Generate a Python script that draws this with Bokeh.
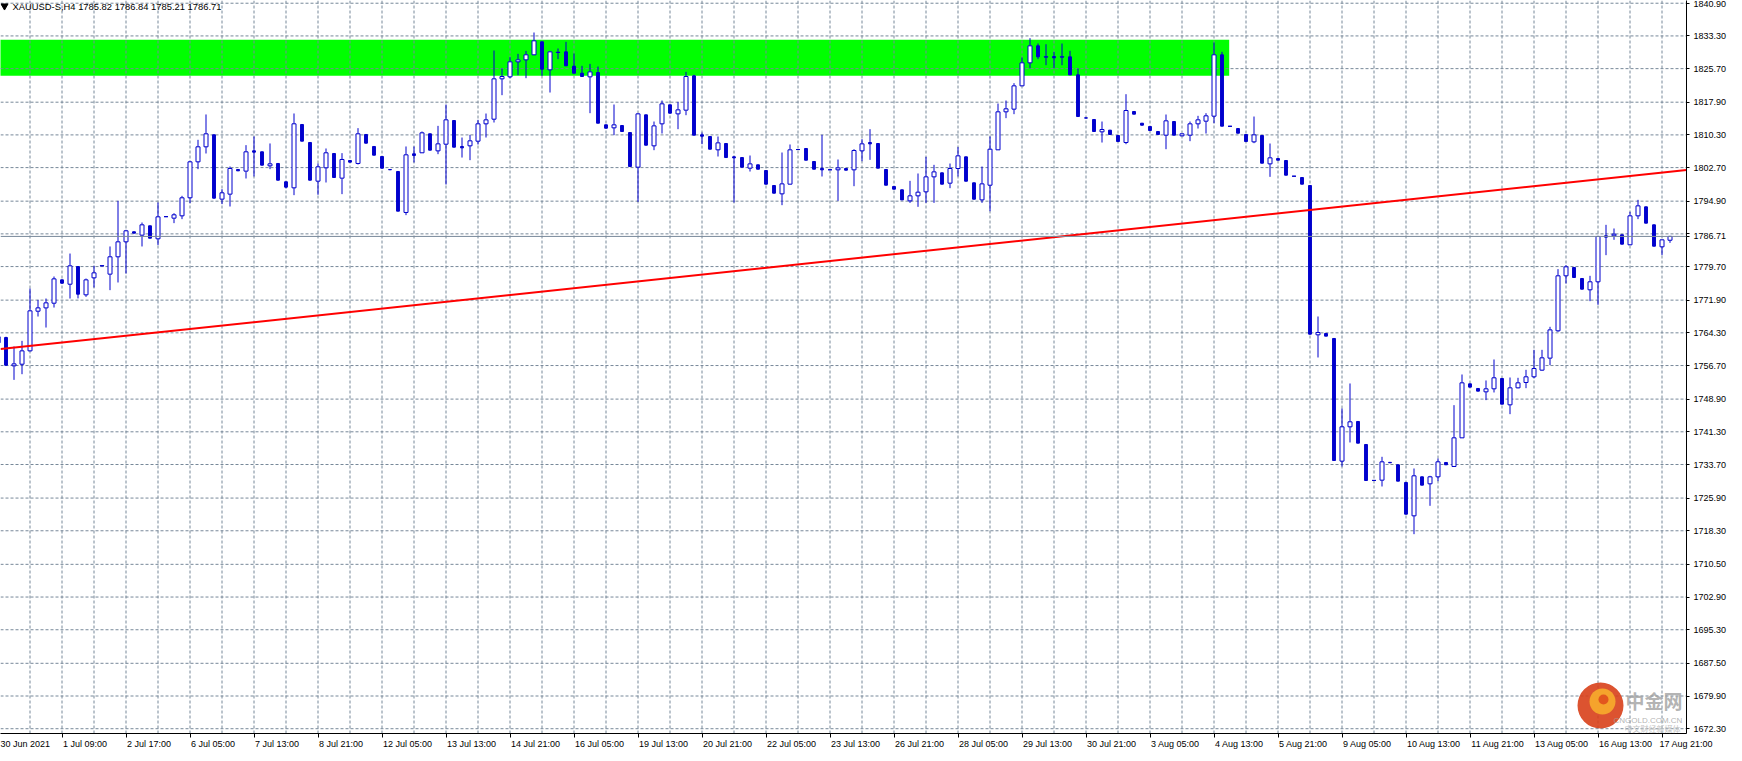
from bokeh.plotting import figure
from bokeh.models import (FixedTicker, Range1d, Label, LinearAxis, NumeralTickFormatter, Span)
from bokeh.embed import file_html
from bokeh.resources import INLINE
import numpy as np

# ---------------- data (XAUUSD H4, 210 bars) ----------------
opens = [1762.05,1763.21,1756.63,1757.01,1760.11,1769.33,1770.10,1771.19,1776.61,1775.60,
         1779.71,1773.13,1777.08,1779.87,1777.94,1781.97,1785.45,1787.78,1787.00,1789.17,
         1786.15,1791.30,1790.95,1791.49,1795.68,1804.04,1807.53,1810.32,1795.37,1796.53,
         1802.26,1801.88,1806.60,1806.37,1803.11,1803.66,1799.40,1798.00,1812.72,1808.54,
         1799.55,1802.65,1805.98,1800.25,1804.35,1803.66,1810.40,1807.61,1805.28,1802.26,
         1801.80,1792.27,1805.90,1806.14,1810.55,1806.59,1808.14,1813.64,1807.60,1807.76,
         1808.84,1812.87,1813.95,1823.33,1823.79,1827.28,1827.74,1828.91,1831.93,1825.42,
         1829.45,1829.60,1826.27,1824.64,1823.79,1824.80,1812.64,1811.94,1812.48,1810.85,
         1802.80,1814.96,1807.76,1812.87,1817.29,1815.19,1816.05,1824.02,1810.31,1809.93,
         1806.83,1808.30,1805.20,1805.04,1802.57,1803.34,1802.02,1798.54,1796.60,1798.85,
         1806.90,1807.14,1804.12,1802.49,1802.20,1802.18,1802.49,1802.18,1806.59,1808.53,
         1808.30,1802.26,1798.31,1797.53,1794.97,1796.14,1797.07,1800.55,1801.48,1799.08,
         1802.49,1805.20,1799.16,1795.20,1798.61,1806.83,1815.66,1816.28,1821.70,1827.05,
         1831.00,1828.40,1828.52,1828.40,1828.44,1824.26,1814.26,1813.88,1811.01,1811.40,
         1810.16,1808.53,1815.74,1813.02,1812.25,1811.09,1810.24,1813.41,1810.08,1810.24,
         1812.87,1813.49,1814.65,1828.91,1812.30,1811.78,1810.39,1808.68,1810.16,1803.57,
         1804.81,1804.35,1800.70,1800.40,1798.54,1763.84,1764.15,1762.99,1734.48,1742.46,
         1743.70,1738.35,1730.00,1730.06,1734.20,1733.63,1729.52,1721.77,1730.84,1729.21,
         1730.84,1734.17,1733.24,1739.90,1752.45,1751.37,1750.59,1751.29,1753.69,1747.57,
         1751.52,1752.76,1754.08,1755.63,1758.42,1764.77,1777.55,1779.49,1776.93,1774.30,
         1776.16,1786.85,1786.85,1787.08,1784.76,1791.49,1793.58,1789.40,1784.29,1785.82]
highs = [1764.22,1763.40,1761.12,1762.44,1774.60,1771.97,1772.27,1777.39,1776.70,1782.73,
         1779.80,1776.92,1779.87,1779.95,1784.37,1794.98,1788.24,1787.85,1789.94,1789.20,
         1794.59,1791.40,1792.11,1796.14,1804.28,1809.16,1815.05,1810.40,1797.69,1802.96,
         1802.30,1807.92,1809.93,1806.40,1808.31,1803.70,1799.45,1815.28,1812.80,1808.60,
         1803.66,1807.14,1806.05,1806.06,1804.40,1811.87,1810.45,1807.65,1805.30,1802.30,
         1801.85,1807.61,1807.61,1811.09,1810.60,1812.40,1817.36,1813.70,1809.69,1810.31,
         1813.80,1815.27,1829.91,1825.73,1828.36,1829.14,1829.83,1834.10,1832.00,1829.83,
         1830.38,1831.93,1829.22,1826.35,1826.81,1826.19,1812.70,1817.36,1812.55,1810.90,
         1815.35,1815.00,1813.41,1818.29,1817.35,1817.98,1824.95,1824.26,1810.85,1810.00,
         1809.93,1808.35,1805.43,1805.10,1805.51,1803.40,1802.05,1798.60,1806.21,1808.07,
         1807.00,1807.20,1804.15,1810.31,1802.30,1804.58,1802.55,1806.98,1809.31,1811.63,
         1808.35,1802.30,1798.35,1797.60,1799.62,1801.33,1805.20,1803.34,1801.55,1803.65,
         1807.45,1805.25,1799.20,1802.95,1809.93,1817.59,1818.29,1822.32,1828.29,1832.78,
         1831.54,1831.38,1829.60,1831.54,1829.84,1825.73,1814.30,1813.95,1813.41,1811.45,
         1810.20,1819.76,1815.80,1813.05,1812.30,1811.15,1815.04,1813.45,1810.60,1813.41,
         1814.73,1815.35,1831.77,1829.60,1812.40,1811.85,1810.45,1814.57,1810.20,1808.30,
         1804.85,1804.40,1800.80,1800.45,1798.60,1768.10,1764.20,1763.05,1746.72,1752.53,
         1743.75,1738.40,1730.10,1735.49,1734.25,1733.70,1729.60,1732.77,1730.90,1731.07,
         1735.10,1734.20,1747.49,1754.62,1752.50,1751.40,1753.23,1758.11,1753.75,1753.92,
         1753.85,1755.70,1760.35,1760.35,1765.70,1779.10,1780.03,1779.55,1777.00,1777.55,
         1786.70,1789.40,1788.55,1787.15,1792.42,1795.21,1793.65,1789.45,1786.00,1786.84]
lows = [1758.95,1756.60,1753.37,1754.69,1760.00,1768.09,1765.53,1770.18,1775.70,1772.27,
        1772.30,1772.66,1774.83,1779.80,1774.22,1776.00,1778.09,1787.40,1784.37,1786.28,
        1784.68,1791.20,1789.79,1790.72,1794.44,1802.34,1805.98,1795.50,1794.21,1793.66,
        1801.90,1800.17,1800.64,1803.20,1802.34,1799.70,1797.90,1796.30,1808.80,1799.70,
        1796.38,1799.24,1800.35,1796.53,1803.90,1803.42,1808.30,1805.55,1802.50,1802.15,
        1792.55,1791.65,1803.89,1806.10,1806.70,1805.82,1798.77,1807.40,1805.04,1804.43,
        1808.07,1809.69,1813.18,1819.53,1823.48,1824.18,1823.48,1828.85,1824.02,1820.15,
        1827.90,1826.30,1824.60,1823.80,1815.35,1813.00,1811.80,1810.24,1811.05,1802.90,
        1794.74,1807.85,1806.75,1810.62,1815.30,1811.63,1814.88,1810.20,1808.14,1806.95,
        1805.28,1805.00,1794.59,1802.75,1801.79,1802.30,1798.80,1796.70,1793.97,1798.80,
        1806.80,1804.40,1802.30,1800.63,1802.10,1794.97,1802.05,1798.38,1804.19,1804.50,
        1802.55,1798.60,1797.65,1795.15,1794.51,1793.58,1794.51,1794.51,1798.80,1797.92,
        1800.63,1799.50,1795.30,1794.51,1792.57,1806.80,1814.19,1815.12,1821.65,1825.81,
        1827.90,1826.50,1825.81,1826.50,1824.20,1814.50,1814.15,1811.05,1808.53,1810.35,
        1808.70,1808.14,1815.10,1812.50,1811.30,1810.35,1806.98,1810.20,1810.00,1808.84,
        1811.78,1810.62,1813.02,1812.30,1812.20,1810.65,1808.70,1808.38,1803.70,1800.55,
        1804.40,1800.90,1800.60,1798.80,1763.90,1758.57,1763.50,1734.60,1733.24,1738.82,
        1738.60,1729.95,1729.90,1728.59,1734.05,1729.80,1722.10,1717.51,1728.85,1724.10,
        1729.83,1733.60,1733.20,1739.85,1751.65,1750.70,1748.66,1750.44,1747.70,1745.40,
        1751.40,1751.44,1753.77,1755.47,1756.79,1764.54,1775.77,1777.10,1774.40,1771.66,
        1770.81,1782.35,1785.92,1784.85,1784.70,1790.72,1789.75,1784.40,1782.35,1785.21]
closes = [1763.36,1756.78,1757.09,1760.11,1769.41,1770.10,1771.27,1776.84,1775.84,1779.87,
          1773.28,1776.61,1778.24,1779.90,1781.97,1785.45,1788.01,1787.47,1789.40,1786.30,
          1791.26,1791.30,1791.73,1795.68,1804.04,1807.53,1810.55,1795.60,1796.84,1802.50,
          1801.95,1806.37,1806.29,1803.27,1803.58,1799.78,1798.16,1812.88,1808.85,1799.78,
          1802.88,1806.14,1800.40,1804.59,1803.97,1810.55,1808.38,1805.59,1802.57,1802.19,
          1792.58,1805.67,1805.52,1810.78,1806.76,1808.22,1813.80,1807.45,1807.29,1808.92,
          1812.87,1813.80,1823.33,1823.87,1827.28,1827.74,1828.91,1832.16,1825.57,1829.60,
          1829.50,1826.35,1824.64,1823.87,1824.95,1813.02,1811.86,1812.64,1811.09,1802.95,
          1815.19,1807.91,1812.40,1817.52,1815.35,1816.12,1823.87,1810.24,1810.00,1806.98,
          1808.45,1805.04,1804.97,1802.80,1803.57,1802.33,1798.85,1796.76,1798.92,1806.83,
          1806.90,1804.42,1802.33,1802.18,1802.20,1802.64,1802.10,1806.67,1808.22,1808.22,
          1802.57,1798.61,1797.69,1795.20,1796.14,1796.99,1800.55,1801.71,1798.85,1802.49,
          1805.43,1799.54,1795.36,1798.92,1806.98,1815.66,1816.36,1821.70,1827.05,1831.00,
          1828.44,1828.45,1828.21,1828.45,1824.26,1814.57,1814.20,1811.09,1811.55,1810.39,
          1808.76,1815.97,1815.12,1812.56,1811.32,1810.39,1813.57,1810.24,1810.55,1812.87,
          1813.80,1814.73,1828.91,1812.33,1812.30,1810.70,1808.76,1810.31,1803.73,1804.97,
          1804.42,1800.94,1800.70,1798.85,1763.99,1764.38,1763.53,1734.63,1742.46,1743.62,
          1738.66,1729.98,1730.00,1734.32,1734.10,1729.83,1722.16,1731.07,1728.90,1730.84,
          1734.32,1733.63,1739.90,1752.68,1751.68,1750.75,1751.29,1753.85,1747.72,1751.52,
          1752.68,1754.08,1756.01,1758.49,1764.99,1777.55,1779.64,1777.16,1774.45,1776.16,
          1786.69,1786.54,1787.23,1784.91,1791.49,1793.81,1789.79,1784.44,1785.91,1786.71]

x_tick_bars = [0, 8, 16, 24, 32, 40, 48, 56, 64, 72, 80, 88, 96, 104, 112, 120, 128,
               136, 144, 152, 160, 168, 176, 184, 192, 200, 208]
x_tick_labels = ["30 Jun 2021", "1 Jul 09:00", "2 Jul 17:00", "6 Jul 05:00", "7 Jul 13:00",
                 "8 Jul 21:00", "12 Jul 05:00", "13 Jul 13:00", "14 Jul 21:00", "16 Jul 05:00",
                 "19 Jul 13:00", "20 Jul 21:00", "22 Jul 05:00", "23 Jul 13:00", "26 Jul 21:00",
                 "28 Jul 05:00", "29 Jul 13:00", "30 Jul 21:00", "3 Aug 05:00", "4 Aug 13:00",
                 "5 Aug 21:00", "9 Aug 05:00", "10 Aug 13:00", "11 Aug 21:00", "13 Aug 05:00",
                 "16 Aug 13:00", "17 Aug 21:00"]
y_tick_values = [1840.90, 1833.30, 1825.70, 1817.90, 1810.30, 1802.70, 1794.90, 1787.30,
                 1779.70, 1771.90, 1764.30, 1756.70, 1748.90, 1741.30, 1733.70, 1725.90,
                 1718.30, 1710.50, 1702.90, 1695.30, 1687.50, 1679.90, 1672.30]
last_price = 1786.71
title_text = "XAUUSD-S,H4  1785.82 1786.84 1785.21 1786.71"
zone_end_bar = 153.9
zone_prices = [1824.04, 1832.40]
trend_bars = [0.3125, 211.06]
trend_prices = [1760.52, 1802.14]

# ---------------- geometry helpers (reference pixel -> data) ----------------
def px_to_bar(px):
    return (px - 5.5) / 8.0

def py_to_price(py):
    return 1817.90 - (py - 109.7) * 0.2324

BLUE = "#0000CD"
GRID = "#778899"
FONT = "Liberation Sans"
CJK = "Noto Sans CJK SC"
AX_FS = 9

W, H = 1734, 753
x0, x1 = px_to_bar(8), px_to_bar(1694)
y0, y1 = py_to_price(741), py_to_price(8)

p = figure(width=W, height=H, output_backend="svg", toolbar_location=None,
           x_range=Range1d(x0, x1), y_range=Range1d(y0, y1),
           y_axis_location="right", min_border_left=0, min_border_top=0,
           min_border_right=48, min_border_bottom=20)
p.outline_line_color = None
p.background_fill_color = "white"
p.border_fill_color = "white"
p.xgrid.visible = False
p.ygrid.visible = False

# green zone (background)
p.quad(left=[x0 - 1], right=[zone_end_bar], bottom=[zone_prices[0]], top=[zone_prices[1]],
       fill_color="#00FF00", line_color=None)

# grid as dashed segments
vgrid = [b for b in range(4, 211, 4)]
p.segment(x0=vgrid, y0=[y0] * len(vgrid), x1=vgrid, y1=[y1] * len(vgrid),
          line_color=GRID, line_width=1, line_dash="3 2")
p.segment(x0=[x0] * len(y_tick_values), y0=y_tick_values, x1=[x1] * len(y_tick_values),
          y1=y_tick_values, line_color=GRID, line_width=1, line_dash="3 2")

# bid line
p.add_layout(Span(location=last_price, dimension="width", line_color=GRID, line_width=1))

# watermark logo
p.scatter([px_to_bar(1608)], [py_to_price(713)], marker="circle", size=46,
          fill_color="#D8401A", line_color=None, fill_alpha=0.9)
p.scatter([px_to_bar(1610)], [py_to_price(709)], marker="circle", size=26,
          fill_color="#F6A82C", line_color=None, fill_alpha=0.95)
p.scatter([px_to_bar(1611)], [py_to_price(707)], marker="circle", size=10,
          fill_color="#E0521E", line_color=None, fill_alpha=0.95)

# candles
o = np.array(opens); h = np.array(highs); l = np.array(lows); c = np.array(closes)
bars = np.arange(len(o))
up = c >= o
dn = ~up
p.segment(x0=bars, y0=h, x1=bars, y1=l, line_color=BLUE, line_width=1)
p.vbar(x=bars[up], width=0.5, top=c[up], bottom=o[up], fill_color="white",
       line_color=BLUE, line_width=1)
p.vbar(x=bars[dn], width=0.36, top=o[dn], bottom=c[dn], fill_color=BLUE,
       line_color=BLUE, line_width=1)

# trend line
p.line(trend_bars, trend_prices, line_color="#FF0000", line_width=2)

# title
p.scatter([px_to_bar(12)], [py_to_price(13.5)], marker="inverted_triangle", size=7,
          fill_color="black", line_color="black")
p.add_layout(Label(x=px_to_bar(20), y=py_to_price(13.5), text=title_text,
                   text_font=FONT, text_font_size="9.4px", text_color="black",
                   text_baseline="middle", text_align="left"))

# watermark texts (kept inside the plot frame)
p.add_layout(Label(x=px_to_bar(1633), y=py_to_price(721), text="中金网",
                   text_font=CJK, text_font_size="19px", text_font_style="bold",
                   text_color="#a0a0a0", text_alpha=0.8,
                   text_baseline="bottom", text_align="left"))
p.add_layout(Label(x=px_to_bar(1621), y=py_to_price(727.5), text="CNGOLD.COM.CN",
                   text_font=FONT, text_font_size="8px", text_color="#a0a0a0",
                   text_alpha=0.8, text_baseline="middle", text_align="left"))
p.add_layout(Label(x=px_to_bar(1632), y=py_to_price(736), text="中文财经新媒体",
                   text_font=CJK, text_font_size="8px", text_color="#c4c4c4",
                   text_baseline="middle", text_align="left"))

# y axis (right); the last price replaces the hidden 1787.30 label
ya = p.yaxis[0]
ya.ticker = FixedTicker(ticks=y_tick_values + [last_price])
ya.formatter = NumeralTickFormatter(format="0.00")
ya.major_label_overrides = {1787.30: "", last_price: f"{last_price:.2f}"}
ya.major_tick_out = 3
ya.major_tick_in = 0
ya.minor_tick_out = 0
ya.minor_tick_in = 0
ya.axis_line_color = "black"
ya.major_tick_line_color = "black"
ya.major_label_standoff = 4
ya.major_label_text_font = FONT
ya.major_label_text_font_size = f"{AX_FS}px"
ya.major_label_text_color = "black"

# x axis: tick marks at the bars
xa = p.xaxis[0]
xa.ticker = FixedTicker(ticks=x_tick_bars)
xa.major_tick_out = 4
xa.major_tick_in = 0
xa.minor_tick_out = 0
xa.minor_tick_in = 0
xa.axis_line_color = "black"
xa.major_tick_line_color = "black"
xa.major_label_text_font_size = "0px"
xa.major_label_standoff = 0
xa.major_label_overrides = {b: "" for b in x_tick_bars}

# second x axis carrying the labels, each label starting just right of its tick
CHAR_W = {ch: 0.556 for ch in "0123456789"}
CHAR_W.update({" ": 0.278, ":": 0.278, "J": 0.5, "u": 0.556, "n": 0.556, "l": 0.222,
               "A": 0.667, "g": 0.556})

def text_w(s, fs):
    return sum(CHAR_W.get(ch, 0.556) for ch in s) * fs

lbl_pos = [round(min(b + (text_w(t, AX_FS) / 2 + 1.0) / 8.0, x1 - 0.02), 5)
           for b, t in zip(x_tick_bars, x_tick_labels)]
xa2 = LinearAxis(ticker=FixedTicker(ticks=lbl_pos),
                 major_label_overrides={v: t for v, t in zip(lbl_pos, x_tick_labels)})
xa2.axis_line_color = None
xa2.major_tick_line_color = None
xa2.minor_tick_line_color = None
xa2.major_tick_out = 0
xa2.major_tick_in = 0
xa2.minor_tick_out = 0
xa2.minor_tick_in = 0
xa2.major_label_standoff = 1
xa2.major_label_text_font = FONT
xa2.major_label_text_font_size = f"{AX_FS}px"
xa2.major_label_text_color = "black"
p.add_layout(xa2, "below")

open("out.html", "w").write(file_html(p, INLINE))
